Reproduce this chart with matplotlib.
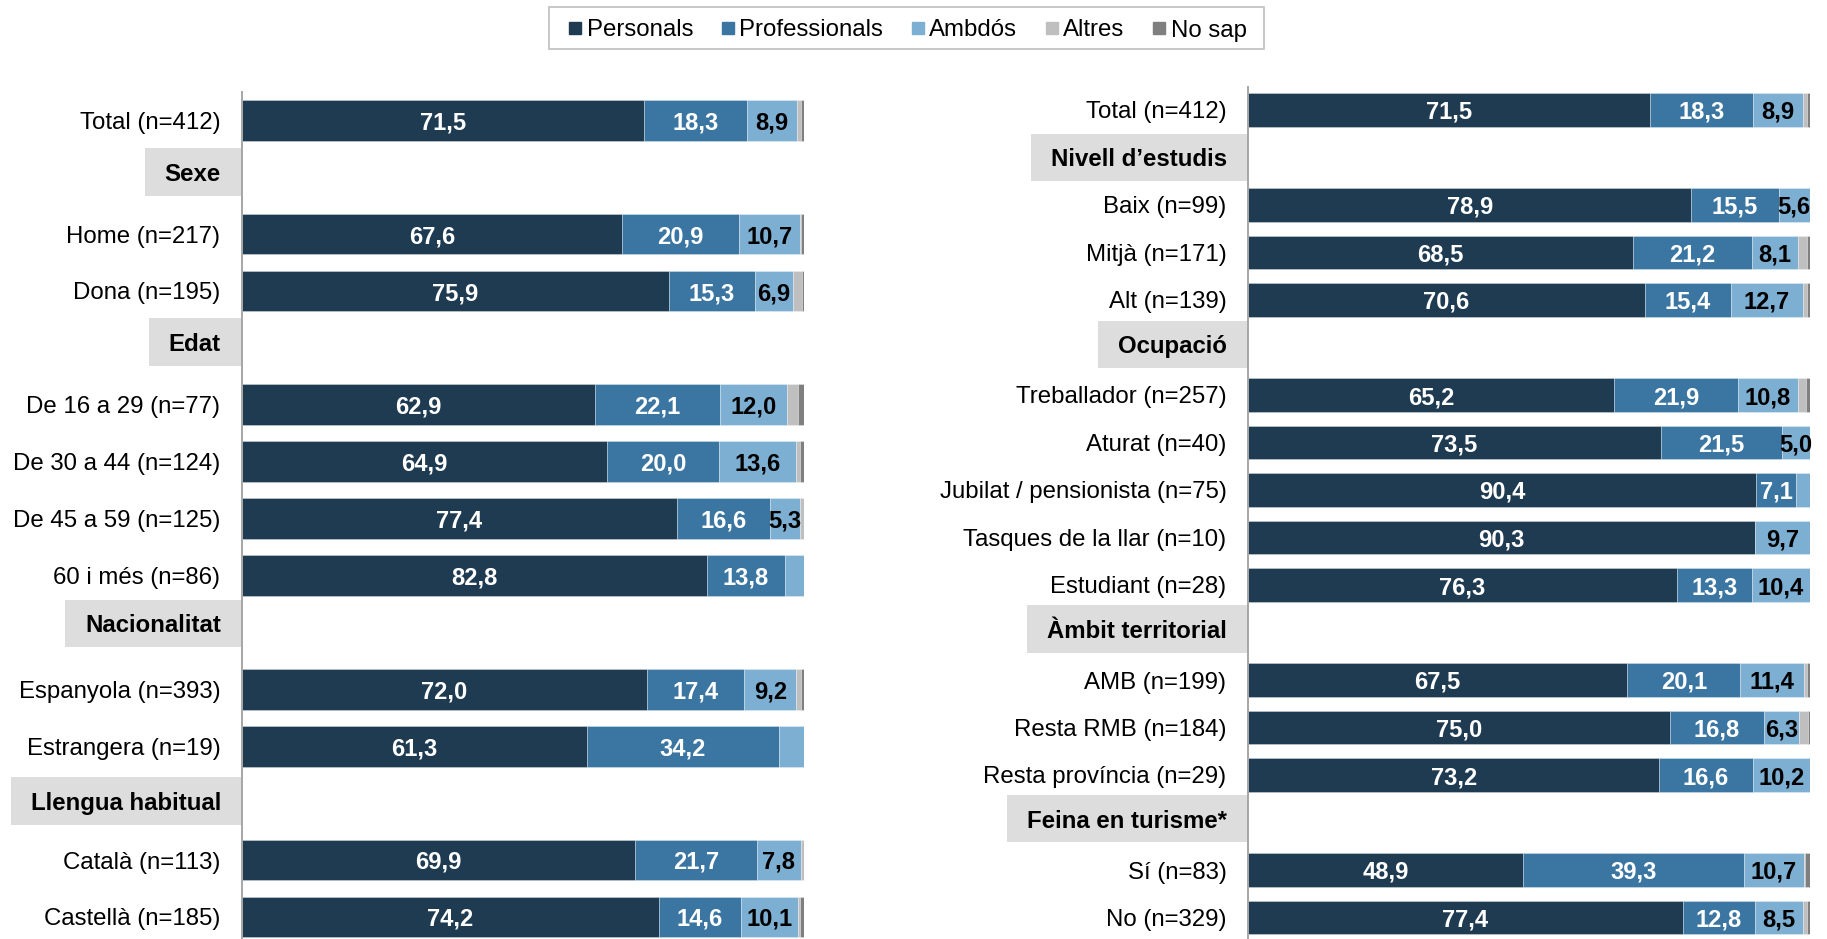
import numpy as np
import matplotlib
matplotlib.use("Agg")
import matplotlib.pyplot as plt
from matplotlib.lines import Line2D
from matplotlib.patches import Rectangle
from matplotlib.transforms import blended_transform_factory

plt.rcParams['font.family'] = ['Liberation Sans', 'DejaVu Sans']

# ---- data -------------------------------------------------------------
series_names = ['Personals', 'Professionals', 'Ambdós', 'Altres', 'No sap']
colors = ['#1F3B51', '#3A76A1', '#7DAFD3', '#BFBFBF', '#7F7F7F']

# None = group header row
left_labels = ['Total (n=412)', 'Sexe', 'Home (n=217)', 'Dona (n=195)', 'Edat',
               'De 16 a 29 (n=77)', 'De 30 a 44 (n=124)', 'De 45 a 59 (n=125)',
               '60 i més (n=86)', 'Nacionalitat', 'Espanyola (n=393)',
               'Estrangera (n=19)', 'Llengua habitual', 'Català (n=113)',
               'Castellà (n=185)']
left_personals     = [71.5, None, 67.6, 75.9, None, 62.9, 64.9, 77.4, 82.8, None, 72.0, 61.3, None, 69.9, 74.2]
left_professionals = [18.3, None, 20.9, 15.3, None, 22.1, 20.0, 16.6, 13.8, None, 17.4, 34.2, None, 21.7, 14.6]
left_ambdos        = [8.9,  None, 10.7, 6.9,  None, 12.0, 13.6, 5.3,  3.4,  None, 9.2,  4.5,  None, 7.8,  10.1]
left_altres        = [0.7,  None, 0.3,  1.5,  None, 2.0,  0.8,  0.7,  0.0,  None, 0.9,  0.0,  None, 0.6,  0.3]
left_nosap         = [0.6,  None, 0.5,  0.4,  None, 1.0,  0.7,  0.0,  0.0,  None, 0.5,  0.0,  None, 0.0,  0.8]

right_labels = ['Total (n=412)', 'Nivell d’estudis', 'Baix (n=99)', 'Mitjà (n=171)',
                'Alt (n=139)', 'Ocupació', 'Treballador (n=257)', 'Aturat (n=40)',
                'Jubilat / pensionista (n=75)', 'Tasques de la llar (n=10)',
                'Estudiant (n=28)', 'Àmbit territorial', 'AMB (n=199)',
                'Resta RMB (n=184)', 'Resta província (n=29)', 'Feina en turisme*',
                'Sí (n=83)', 'No (n=329)']
right_personals     = [71.5, None, 78.9, 68.5, 70.6, None, 65.2, 73.5, 90.4, 90.3, 76.3, None, 67.5, 75.0, 73.2, None, 48.9, 77.4]
right_professionals = [18.3, None, 15.5, 21.2, 15.4, None, 21.9, 21.5, 7.1,  0.0,  13.3, None, 20.1, 16.8, 16.6, None, 39.3, 12.8]
right_ambdos        = [8.9,  None, 5.6,  8.1,  12.7, None, 10.8, 5.0,  2.5,  9.7,  10.4, None, 11.4, 6.3,  10.2, None, 10.7, 8.5]
right_altres        = [0.7,  None, 0.0,  1.7,  0.7,  None, 1.3,  0.0,  0.0,  0.0,  0.0,  None, 0.4,  1.5,  0.0,  None, 0.2,  0.7]
right_nosap         = [0.6,  None, 0.0,  0.5,  0.6,  None, 0.8,  0.0,  0.0,  0.0,  0.0,  None, 0.6,  0.4,  0.0,  None, 0.9,  0.6]

# ---- layout (pixels) --------------------------------------------------
W, H = 1827, 939
fig = plt.figure(figsize=(W / 100, H / 100), dpi=100)
FS = 17.3


def add_px_axes(x0, x1, y0, y1):
    return fig.add_axes([x0 / W, 1 - y1 / H, (x1 - x0) / W, (y1 - y0) / H])


def draw_panel(ax, labels, series, row0, step, top, header_dy):
    n = len(labels)
    ax.set_xlim(0, 100)
    ax.set_ylim((H - row0) / step, (top - row0) / step)
    is_header = np.array([v is None for v in series[0]])
    ypos = np.arange(n)
    rows = ypos[~is_header]
    left = np.zeros(len(rows))
    for k, vals in enumerate(series):
        v = np.array([x for x in vals if x is not None], dtype=float)
        ax.barh(rows, v, left=left, height=0.715, color=colors[k],
                edgecolor=(1, 1, 1, 0.35), linewidth=0.6, zorder=2)
        if k < 3:
            for y, l, w in zip(rows, left, v):
                if w >= 5:
                    ax.text(l + w / 2, y, f'{w:.1f}'.replace('.', ','),
                            ha='center', va='center_baseline', fontsize=FS - 0.2,
                            fontweight='bold', zorder=4,
                            color='black' if k == 2 else 'white')
        left = left + v

    ax.set_yticks(rows)
    ax.set_yticklabels([labels[i] for i in rows], fontsize=FS)
    ax.tick_params(axis='y', length=0, pad=15.5)
    ax.set_xticks([])
    for s in ['top', 'right', 'bottom']:
        ax.spines[s].set_visible(False)
    ax.spines['left'].set_color('#A6A6A6')
    ax.spines['left'].set_linewidth(1.4)

    # group headers on grey boxes
    trans = blended_transform_factory(ax.transAxes, ax.transData)
    axis_px = ax.transAxes.transform((0, 0))[0]
    renderer = fig.canvas.get_renderer()
    for j, i in enumerate(ypos[is_header]):
        yc = i + header_dy[j] / step
        t = ax.text(-21 / (ax.bbox.width), yc, labels[i], transform=trans,
                    ha='right', va='center_baseline', fontsize=FS,
                    fontweight='bold', zorder=4, clip_on=False)
        bb = t.get_window_extent(renderer)
        yd = ax.transData.transform((0, yc))[1]
        x0, y0 = ax.transAxes.inverted().transform((bb.x0 - 20, yd - 23.8))
        x1, y1 = ax.transAxes.inverted().transform((axis_px, yd + 23.8))
        ax.add_patch(Rectangle((x0, y0), x1 - x0, y1 - y0, transform=ax.transAxes,
                               facecolor='#DDDDDD', edgecolor='none',
                               clip_on=False, zorder=1))


ax_l = add_px_axes(242, 804, 92, H)
draw_panel(ax_l, left_labels,
           [left_personals, left_professionals, left_ambdos, left_altres, left_nosap],
           row0=120.3, step=56.9, top=92, header_dy=[-5, -6, -9, -2])

ax_r = add_px_axes(1248, 1810, 87, H)
draw_panel(ax_r, right_labels,
           [right_personals, right_professionals, right_ambdos, right_altres, right_nosap],
           row0=110.0, step=47.5, top=87, header_dy=[0, -3, -3.5, -4])

# ---- legend -----------------------------------------------------------
handles = [Line2D([0], [0], marker='s', linestyle='none', markersize=8.2,
                  markerfacecolor=c, markeredgecolor=c) for c in colors]
leg = fig.legend(handles, series_names, loc='center', ncol=5,
                 bbox_to_anchor=(908 / W, 1 - 30.5 / H), fontsize=FS,
                 frameon=False, handlelength=0.5,
                 handletextpad=0.22, columnspacing=1.2, borderpad=0.3,
                 borderaxespad=0)
# legend frame is wider than its content in the original
fig.patches.append(Rectangle((549 / W, 1 - 49 / H), 715 / W, 42 / H,
                             transform=fig.transFigure, facecolor='none',
                             edgecolor='#BFBFBF', linewidth=1.2))

fig.savefig('out.png', dpi=100)
